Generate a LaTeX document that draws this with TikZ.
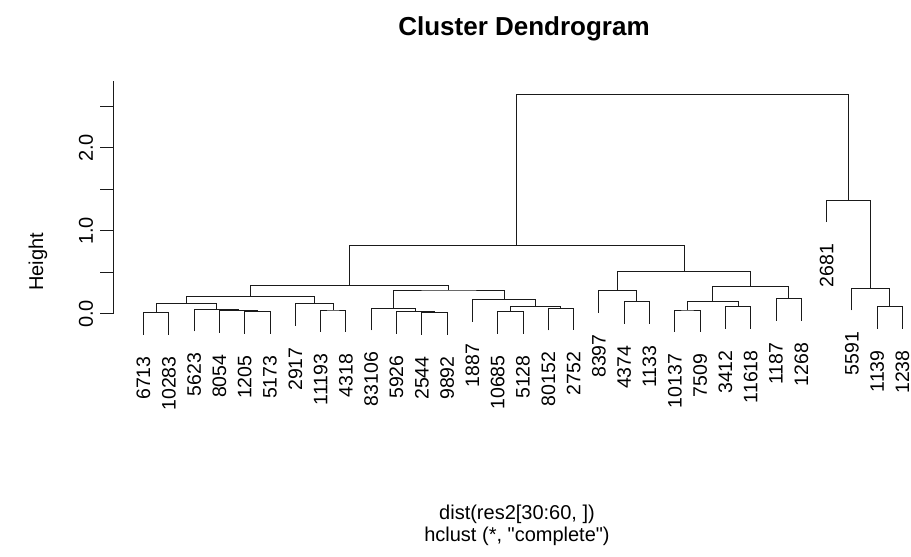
\documentclass[tikz,border=0pt]{standalone}
\usepackage{fontspec}
\setmainfont{Liberation Sans}
\usepackage{xcolor}
\usepackage{tikz}
\usetikzlibrary{calc}
\definecolor{treeline}{HTML}{1A1A1A}

% leaf: name, label, position, height of the merge above it
\newcommand{\dleaf}[4]{%
  \coordinate (#1) at ({143.5+(#3-1)*25.3},{#4-0.265});
  \node[leaflabel] (#1lab) at ($(#1)+(0,-0.26)$) {#2};}
% merge: name, left child, right child, height
\newcommand{\dmerge}[4]{%
  \coordinate (#1mid) at ($(#2)!.5!(#3)$);
  \coordinate (#1) at (#1mid |- 0,#4);
  \draw[branch] (#2) |- (#1) -| (#3);}

\begin{document}
\begin{tikzpicture}[x=1pt, y=83pt,
    branch/.style={draw=treeline, line width=1pt},
    leaflabel/.style={rotate=90, anchor=east, inner sep=0pt,
                      font=\fontsize{19.5}{24}\selectfont},
    axislabel/.style={font=\fontsize{20}{24}\selectfont, inner sep=0pt}]
  \useasboundingbox (0,-2.916) rectangle (911,3.783);

  \node[font=\bfseries\fontsize{26}{30}\selectfont, anchor=base] (title) at (524,3.361) {Cluster Dendrogram};

  % axis
  \coordinate (axbot) at (113,0);
  \coordinate (axtop) at (113,2.81);
  \draw[branch] (axbot) -- (axtop);
  \foreach \t in {0,0.5,1,1.5,2,2.5}
    \draw[branch] (113,\t) -- (100,\t);
  \foreach \t/\lab in {0/0.0, 1/1.0, 2/2.0}
    \node[axislabel, rotate=90] (tick\t) at (86,\t) {\lab};
  \node[axislabel, rotate=90] (ylab) at (38,0.63) {Height};

  % leaves
  \dleaf{l6713}{6713}{1}{0.016}
  \dleaf{l10283}{10283}{2}{0.016}
  \dleaf{l5623}{5623}{3}{0.057}
  \dleaf{l8054}{8054}{4}{0.039}
  \dleaf{l1205}{1205}{5}{0.027}
  \dleaf{l5173}{5173}{6}{0.027}
  \dleaf{l2917}{2917}{7}{0.125}
  \dleaf{l11193}{11193}{8}{0.048}
  \dleaf{l4318}{4318}{9}{0.048}
  \dleaf{l83106}{83106}{10}{0.069}
  \dleaf{l5926}{5926}{11}{0.028}
  \dleaf{l2544}{2544}{12}{0.016}
  \dleaf{l9892}{9892}{13}{0.016}
  \dleaf{l1887}{1887}{14}{0.169}
  \dleaf{l10685}{10685}{15}{0.028}
  \dleaf{l5128}{5128}{16}{0.028}
  \dleaf{l80152}{80152}{17}{0.069}
  \dleaf{l2752}{2752}{18}{0.069}
  \dleaf{l8397}{8397}{19}{0.281}
  \dleaf{l4374}{4374}{20}{0.148}
  \dleaf{l1133}{1133}{21}{0.148}
  \dleaf{l10137}{10137}{22}{0.048}
  \dleaf{l7509}{7509}{23}{0.048}
  \dleaf{l3412}{3412}{24}{0.088}
  \dleaf{l11618}{11618}{25}{0.088}
  \dleaf{l1187}{1187}{26}{0.181}
  \dleaf{l1268}{1268}{27}{0.181}
  \dleaf{l2681}{2681}{28}{1.373}
  \dleaf{l5591}{5591}{29}{0.31}
  \dleaf{l1139}{1139}{30}{0.088}
  \dleaf{l1238}{1238}{31}{0.088}

  % merges
  \dmerge{m1}{l6713}{l10283}{0.016}
  \dmerge{m2}{l1205}{l5173}{0.027}
  \dmerge{m3}{l8054}{m2}{0.039}
  \dmerge{m4}{l5623}{m3}{0.057}
  \dmerge{m5}{m1}{m4}{0.13}
  \dmerge{m6}{l11193}{l4318}{0.048}
  \dmerge{m7}{l2917}{m6}{0.125}
  \dmerge{m8}{m5}{m7}{0.208}
  \dmerge{m9}{l2544}{l9892}{0.016}
  \dmerge{m10}{l5926}{m9}{0.028}
  \dmerge{m11}{l83106}{m10}{0.069}
  \dmerge{m12}{l10685}{l5128}{0.028}
  \dmerge{m13}{l80152}{l2752}{0.069}
  \dmerge{m14}{m12}{m13}{0.088}
  \dmerge{m15}{l1887}{m14}{0.169}
  \dmerge{m16}{m11}{m15}{0.289}
  \dmerge{m17}{m8}{m16}{0.349}
  \dmerge{m18}{l4374}{l1133}{0.148}
  \dmerge{m19}{l8397}{m18}{0.281}
  \dmerge{m20}{l10137}{l7509}{0.048}
  \dmerge{m21}{l3412}{l11618}{0.088}
  \dmerge{m22}{m20}{m21}{0.148}
  \dmerge{m23}{l1187}{l1268}{0.181}
  \dmerge{m24}{m22}{m23}{0.337}
  \dmerge{m25}{m19}{m24}{0.51}
  \dmerge{m26}{m17}{m25}{0.831}
  \dmerge{m27}{l1139}{l1238}{0.088}
  \dmerge{m28}{l5591}{m27}{0.31}
  \dmerge{m29}{l2681}{m28}{1.373}
  \dmerge{m30}{m26}{m29}{2.65}

  \node[axislabel] (sub1) at (517,-2.41) {dist(res2[30:60, ])};
  \node[axislabel] (sub2) at (517,-2.675) {hclust (*, \textquotedbl complete\textquotedbl)};
\end{tikzpicture}
\end{document}
